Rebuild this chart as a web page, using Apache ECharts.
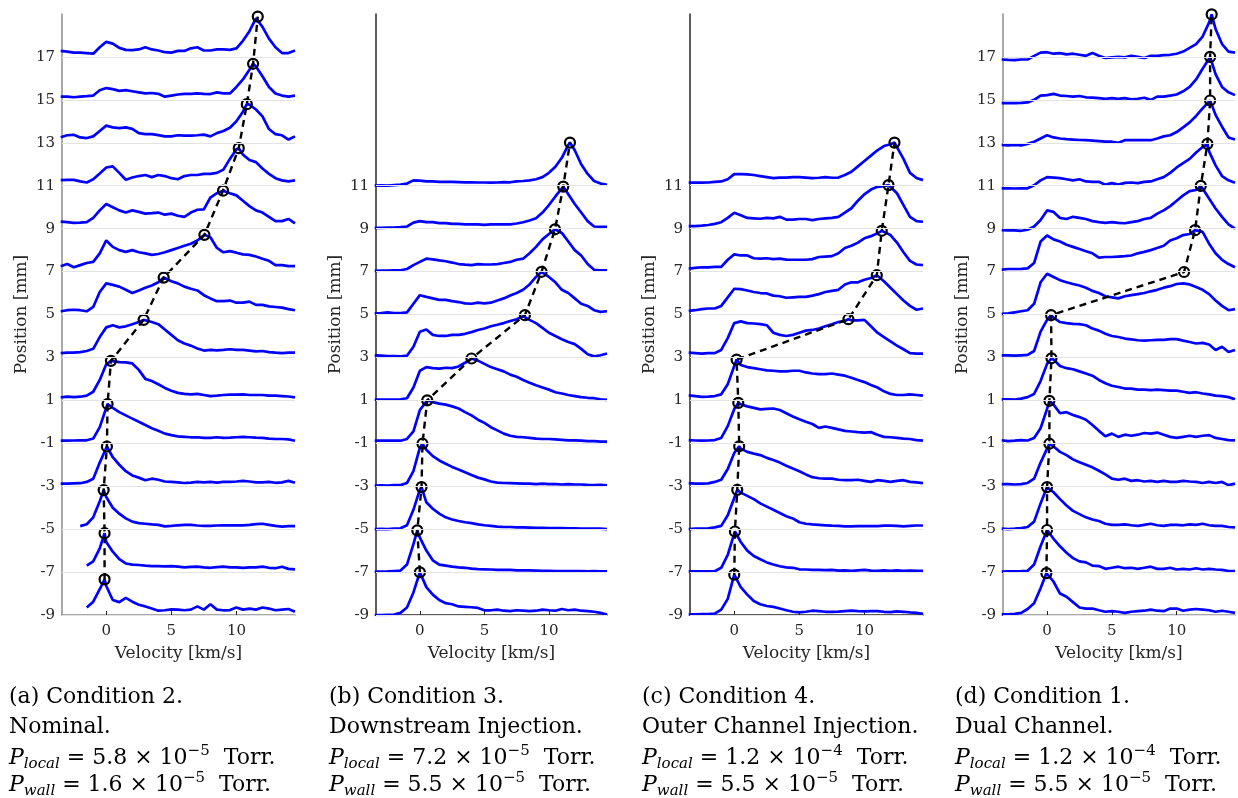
<!DOCTYPE html>
<html>
<head>
<meta charset="utf-8">
<script src="https://cdn.jsdelivr.net/npm/echarts@6/dist/echarts.min.js"></script>
<style>
  html, body { margin: 0; padding: 0; background: #fff; }
  #chart { width: 1238px; height: 798px; }
</style>
</head>
<body>
<div id="chart"></div>
<script>
// velocity grid shared by every trace [km/s]
const velocity = [-3.5, -3, -2.5, -2, -1.5, -1, -0.5, 0, 0.5, 1, 1.5, 2, 2.5, 3, 3.5, 4, 4.5, 5, 5.5, 6,
  6.5, 7, 7.5, 8, 8.5, 9, 9.5, 10, 10.5, 11, 11.5, 12, 12.5, 13, 13.5, 14, 14.5];

const xTicks = [0, 5, 10];
const yTicksLong = [-9, -7, -5, -3, -1, 1, 3, 5, 7, 9, 11, 13, 15, 17];
const yTicksShort = [-9, -7, -5, -3, -1, 1, 3, 5, 7, 9, 11];

// (a) Condition 2 - trace heights above each baseline [mm]
const basesA = [-9, -7, -5, -3, -1, 1, 3, 5, 7, 9, 11, 13, 15, 17];
const ampA = [
  [null, null, null, null, 0.35, 0.62, 1.2, 1.35, 0.7, 0.6, 0.8, 0.62, 0.48, 0.4, 0.3, 0.2, 0.22, 0.26, 0.25, 0.22, 0.25, 0.4, 0.25, 0.5, 0.25, 0.22, 0.23, 0.35, 0.25, 0.3, 0.25, 0.35, 0.3, 0.22, 0.25, 0.28, 0.15],
  [null, null, null, null, 0.3, 0.5, 1.1, 1.4, 0.95, 0.6, 0.4, 0.35, 0.33, 0.3, 0.28, 0.28, 0.27, 0.28, 0.25, 0.22, 0.24, 0.25, 0.22, 0.2, 0.23, 0.25, 0.22, 0.22, 0.2, 0.22, 0.22, 0.25, 0.2, 0.18, 0.25, 0.15, 0.13],
  [null, null, null, 0.14, 0.23, 0.55, 1.3, 1.5, 1.0, 0.72, 0.5, 0.35, 0.28, 0.25, 0.22, 0.2, 0.13, 0.15, 0.18, 0.2, 0.2, 0.17, 0.15, 0.15, 0.17, 0.18, 0.18, 0.18, 0.18, 0.2, 0.23, 0.25, 0.2, 0.15, 0.12, 0.14, 0.14],
  [0.12, 0.12, 0.13, 0.14, 0.2, 0.35, 1.1, 1.75, 1.35, 1.0, 0.7, 0.5, 0.4, 0.28, 0.35, 0.3, 0.22, 0.2, 0.18, 0.15, 0.17, 0.2, 0.18, 0.2, 0.17, 0.2, 0.2, 0.22, 0.25, 0.22, 0.18, 0.18, 0.2, 0.16, 0.18, 0.25, 0.16],
  [0.12, 0.12, 0.13, 0.14, 0.14, 0.22, 0.75, 1.55, 1.65, 1.45, 1.3, 1.15, 1.0, 0.85, 0.7, 0.58, 0.45, 0.38, 0.32, 0.3, 0.28, 0.28, 0.25, 0.25, 0.28, 0.25, 0.26, 0.28, 0.3, 0.28, 0.26, 0.25, 0.22, 0.2, 0.2, 0.18, 0.12],
  [0.14, 0.17, 0.15, 0.17, 0.22, 0.4, 0.95, 1.68, 1.8, 1.78, 1.77, 1.72, 1.42, 1.0, 0.9, 0.75, 0.58, 0.45, 0.35, 0.3, 0.28, 0.3, 0.25, 0.2, 0.22, 0.25, 0.27, 0.27, 0.28, 0.25, 0.25, 0.25, 0.22, 0.22, 0.2, 0.18, 0.14],
  [0.2, 0.22, 0.22, 0.25, 0.3, 0.4, 0.95, 1.4, 1.5, 1.4, 1.45, 1.55, 1.65, 1.72, 1.65, 1.55, 1.3, 1.05, 0.8, 0.65, 0.55, 0.42, 0.32, 0.35, 0.33, 0.35, 0.38, 0.35, 0.35, 0.32, 0.28, 0.3, 0.25, 0.22, 0.2, 0.22, 0.22],
  [0.15, 0.2, 0.22, 0.2, 0.15, 0.35, 1.05, 1.45, 1.38, 1.3, 1.15, 1.0, 1.12, 1.25, 1.35, 1.5, 1.7, 1.55, 1.45, 1.3, 1.2, 1.12, 0.9, 0.75, 0.62, 0.62, 0.65, 0.55, 0.55, 0.6, 0.45, 0.45, 0.38, 0.35, 0.32, 0.25, 0.2],
  [0.25, 0.35, 0.2, 0.3, 0.4, 0.45, 0.85, 1.45, 1.15, 1.0, 0.92, 1.0, 0.9, 0.85, 0.78, 0.82, 0.9, 1.0, 1.1, 1.2, 1.3, 1.45, 1.65, 1.6, 1.1, 0.9, 0.95, 0.88, 0.8, 0.78, 0.7, 0.6, 0.5, 0.3, 0.3, 0.25, 0.25],
  [0.33, 0.3, 0.27, 0.28, 0.3, 0.5, 0.85, 1.15, 1.0, 0.85, 0.75, 0.85, 0.78, 0.7, 0.72, 0.75, 0.65, 0.7, 0.6, 0.55, 0.75, 0.88, 0.9, 1.45, 1.65, 1.75, 1.65, 1.55, 1.3, 1.05, 0.85, 0.75, 0.55, 0.35, 0.35, 0.45, 0.25],
  [0.26, 0.27, 0.27, 0.2, 0.15, 0.3, 0.57, 0.85, 0.9, 0.6, 0.28, 0.38, 0.45, 0.5, 0.4, 0.5, 0.45, 0.35, 0.3, 0.45, 0.5, 0.5, 0.55, 0.55, 0.6, 0.75, 1.25, 1.7, 1.45, 1.2, 1.1, 0.8, 0.55, 0.35, 0.25, 0.2, 0.25],
  [0.26, 0.35, 0.37, 0.25, 0.22, 0.3, 0.55, 0.8, 0.72, 0.68, 0.72, 0.65, 0.45, 0.4, 0.4, 0.36, 0.3, 0.3, 0.35, 0.33, 0.33, 0.35, 0.38, 0.3, 0.45, 0.55, 0.7, 1.0, 1.45, 1.78, 1.55, 1.23, 0.64, 0.4, 0.35, 0.15, 0.3],
  [0.15, 0.15, 0.12, 0.15, 0.17, 0.2, 0.45, 0.55, 0.5, 0.42, 0.45, 0.4, 0.35, 0.3, 0.32, 0.28, 0.15, 0.2, 0.25, 0.28, 0.28, 0.3, 0.28, 0.27, 0.35, 0.3, 0.3, 0.6, 0.95, 1.4, 1.55, 1.1, 0.6, 0.3, 0.2, 0.15, 0.2],
  [0.28, 0.25, 0.2, 0.2, 0.18, 0.15, 0.45, 0.7, 0.62, 0.42, 0.33, 0.32, 0.35, 0.45, 0.35, 0.3, 0.22, 0.2, 0.28, 0.28, 0.4, 0.45, 0.3, 0.3, 0.35, 0.35, 0.33, 0.4, 0.75, 1.2, 1.8, 1.4, 0.85, 0.45, 0.18, 0.18, 0.3]
];
const peakVelA = [-0.13, -0.13, -0.2, 0.05, 0.1, 0.36, 2.87, 4.41, 7.54, 8.97, 10.18, 10.8, 11.28, 11.64];
const peakPosA = [-7.34, -5.19, -3.18, -1.15, 0.83, 2.84, 4.75, 6.72, 8.71, 10.77, 12.75, 14.8, 16.68, 18.88];

// (b) Condition 3
const basesB = [-9, -7, -5, -3, -1, 1, 3, 5, 7, 9, 11];
const ampB = [
  [0.0, 0.0, 0.01, 0.02, 0.1, 0.35, 1.05, 1.9, 1.3, 0.95, 0.7, 0.55, 0.5, 0.4, 0.38, 0.36, 0.33, 0.22, 0.22, 0.25, 0.2, 0.18, 0.22, 0.2, 0.18, 0.2, 0.25, 0.22, 0.2, 0.28, 0.22, 0.25, 0.2, 0.18, 0.15, 0.1, 0.02],
  [0.02, 0.02, 0.03, 0.05, 0.07, 0.35, 1.3, 1.6, 1.0, 0.55, 0.35, 0.3, 0.25, 0.22, 0.2, 0.16, 0.14, 0.13, 0.12, 0.1, 0.1, 0.1, 0.08, 0.08, 0.08, 0.07, 0.06, 0.06, 0.05, 0.04, 0.05, 0.04, 0.05, 0.03, 0.05, 0.03, 0.03],
  [0.0, 0.01, 0.0, 0.02, 0.04, 0.18, 0.9, 1.85, 1.25, 0.95, 0.72, 0.55, 0.45, 0.38, 0.32, 0.28, 0.22, 0.18, 0.15, 0.12, 0.1, 0.1, 0.08, 0.08, 0.07, 0.06, 0.06, 0.05, 0.05, 0.05, 0.04, 0.04, 0.03, 0.03, 0.03, 0.02, 0.0],
  [0.03, 0.04, 0.03, 0.05, 0.05, 0.15, 0.7, 1.8, 1.7, 1.4, 1.2, 1.05, 0.9, 0.78, 0.65, 0.52, 0.4, 0.32, 0.22, 0.17, 0.15, 0.14, 0.13, 0.12, 0.12, 0.1, 0.12, 0.1, 0.1, 0.08, 0.1, 0.08, 0.08, 0.06, 0.05, 0.06, 0.04],
  [0.12, 0.12, 0.13, 0.12, 0.12, 0.2, 0.55, 1.55, 1.95, 1.92, 1.85, 1.8, 1.72, 1.62, 1.45, 1.3, 1.1, 0.95, 0.75, 0.6, 0.45, 0.35, 0.3, 0.28, 0.25, 0.22, 0.2, 0.2, 0.18, 0.16, 0.14, 0.14, 0.12, 0.1, 0.1, 0.08, 0.08],
  [0.03, 0.03, 0.04, 0.03, 0.05, 0.1, 0.6, 1.38, 1.55, 1.5, 1.48, 1.52, 1.5, 1.58, 1.75, 1.93, 1.85, 1.7, 1.55, 1.45, 1.35, 1.2, 1.1, 0.95, 0.82, 0.7, 0.6, 0.5, 0.38, 0.32, 0.25, 0.2, 0.15, 0.12, 0.1, 0.05, 0.02],
  [0.1, 0.08, 0.06, 0.06, 0.05, 0.08, 0.5, 1.2, 1.3, 1.05, 1.0, 1.0, 1.05, 1.05, 1.1, 1.18, 1.28, 1.35, 1.45, 1.52, 1.6, 1.7, 1.78, 1.92, 1.75, 1.6, 1.38, 1.15, 1.0, 0.85, 0.72, 0.62, 0.4, 0.15, 0.05, 0.1, 0.18],
  [0.05, 0.06, 0.1, 0.07, 0.06, 0.1, 0.5, 0.9, 0.82, 0.75, 0.68, 0.68, 0.62, 0.58, 0.52, 0.5, 0.55, 0.52, 0.55, 0.65, 0.75, 0.88, 1.0, 1.15, 1.4, 1.75, 1.95, 1.75, 1.5, 1.15, 1.0, 0.75, 0.5, 0.4, 0.2, 0.12, 0.15],
  [0.03, 0.04, 0.05, 0.06, 0.06, 0.12, 0.3, 0.45, 0.6, 0.57, 0.52, 0.48, 0.42, 0.35, 0.32, 0.3, 0.35, 0.33, 0.33, 0.35, 0.4, 0.45, 0.55, 0.6, 0.85, 1.15, 1.5, 1.75, 1.95, 1.8, 1.4, 1.0, 0.75, 0.35, 0.08, 0.06, 0.06],
  [0.04, 0.04, 0.05, 0.05, 0.07, 0.1, 0.28, 0.35, 0.3, 0.3, 0.26, 0.26, 0.22, 0.22, 0.2, 0.2, 0.2, 0.18, 0.2, 0.2, 0.2, 0.2, 0.24, 0.3, 0.38, 0.48, 0.75, 1.1, 1.5, 1.9, 1.6, 1.15, 0.75, 0.35, 0.1, 0.08, 0.08],
  [0.0, 0.02, 0.0, 0.03, 0.05, 0.1, 0.25, 0.24, 0.2, 0.2, 0.18, 0.18, 0.18, 0.17, 0.16, 0.16, 0.15, 0.15, 0.14, 0.15, 0.17, 0.16, 0.2, 0.22, 0.25, 0.3, 0.4, 0.6, 0.88, 1.3, 1.9, 1.65, 1.0, 0.55, 0.22, 0.1, 0.04]
];
const peakVelB = [0, -0.2, 0.13, 0.2, 0.57, 4.0, 8.14, 9.43, 10.47, 11.11, 11.63];
const peakPosB = [-7.01, -5.06, -3.04, -1.02, 1.0, 2.95, 4.97, 6.99, 8.97, 10.96, 13.01];

// (c) Condition 4
const basesC = [-9, -7, -5, -3, -1, 1, 3, 5, 7, 9, 11];
const ampC = [
  [0.03, 0.03, 0.04, 0.04, 0.06, 0.25, 0.75, 1.85, 1.3, 0.95, 0.65, 0.5, 0.42, 0.38, 0.3, 0.22, 0.15, 0.12, 0.15, 0.2, 0.18, 0.15, 0.15, 0.16, 0.18, 0.2, 0.18, 0.17, 0.18, 0.18, 0.15, 0.13, 0.17, 0.15, 0.12, 0.1, 0.05],
  [0.03, 0.03, 0.03, 0.03, 0.04, 0.2, 0.8, 1.8, 1.4, 1.0, 0.75, 0.6, 0.45, 0.35, 0.27, 0.22, 0.2, 0.13, 0.12, 0.1, 0.1, 0.09, 0.1, 0.07, 0.08, 0.06, 0.08, 0.1, 0.07, 0.06, 0.08, 0.06, 0.08, 0.06, 0.07, 0.06, 0.06],
  [0.0, 0.02, 0.03, 0.04, 0.08, 0.15, 0.65, 1.45, 1.7, 1.55, 1.4, 1.2, 1.05, 0.9, 0.75, 0.6, 0.5, 0.32, 0.25, 0.22, 0.2, 0.18, 0.16, 0.15, 0.13, 0.13, 0.14, 0.14, 0.14, 0.14, 0.16, 0.16, 0.15, 0.13, 0.15, 0.17, 0.17],
  [0.14, 0.12, 0.12, 0.13, 0.2, 0.3, 0.8, 1.55, 1.75, 1.6, 1.52, 1.45, 1.32, 1.22, 1.1, 0.95, 0.82, 0.7, 0.55, 0.42, 0.37, 0.35, 0.35, 0.3, 0.28, 0.28, 0.3, 0.25, 0.2, 0.28, 0.25, 0.2, 0.25, 0.28, 0.2, 0.18, 0.14],
  [0.15, 0.13, 0.12, 0.13, 0.15, 0.25, 0.8, 1.6, 1.82, 1.72, 1.65, 1.58, 1.6, 1.62, 1.55, 1.4, 1.25, 1.12, 1.0, 0.9, 0.72, 0.78, 0.72, 0.65, 0.58, 0.55, 0.52, 0.5, 0.52, 0.4, 0.3, 0.28, 0.25, 0.22, 0.2, 0.15, 0.12],
  [0.23, 0.2, 0.16, 0.17, 0.2, 0.28, 0.75, 1.6, 1.65, 1.55, 1.5, 1.45, 1.4, 1.38, 1.35, 1.35, 1.38, 1.38, 1.3, 1.25, 1.22, 1.22, 1.25, 1.2, 1.15, 1.05, 0.95, 0.85, 0.72, 0.6, 0.42, 0.3, 0.25, 0.25, 0.28, 0.25, 0.22],
  [0.22, 0.2, 0.18, 0.2, 0.2, 0.35, 0.9, 1.6, 1.68, 1.6, 1.58, 1.55, 1.5, 1.15, 1.05, 1.0, 1.05, 1.15, 1.25, 1.28, 1.35, 1.45, 1.55, 1.65, 1.7, 1.73, 1.73, 1.75, 1.45, 1.15, 0.95, 0.75, 0.55, 0.38, 0.2, 0.18, 0.18],
  [0.17, 0.2, 0.25, 0.28, 0.28, 0.4, 0.8, 1.2, 1.18, 1.12, 1.05, 1.0, 0.98, 0.88, 0.85, 0.78, 0.8, 0.82, 0.82, 0.88, 0.95, 1.05, 1.1, 1.15, 1.4, 1.5, 1.5, 1.62, 1.7, 1.8, 1.55, 1.25, 0.95, 0.65, 0.4, 0.22, 0.28],
  [0.14, 0.17, 0.2, 0.2, 0.22, 0.22, 0.55, 0.8, 0.75, 0.75, 0.62, 0.6, 0.62, 0.58, 0.6, 0.56, 0.55, 0.55, 0.55, 0.58, 0.68, 0.7, 0.72, 0.85, 1.1, 1.2, 1.35, 1.55, 1.65, 1.78, 1.85, 1.7, 1.35, 0.9, 0.5, 0.33, 0.3],
  [0.12, 0.12, 0.14, 0.17, 0.22, 0.3, 0.5, 0.74, 0.62, 0.5, 0.48, 0.46, 0.5, 0.48, 0.55, 0.42, 0.42, 0.45, 0.45, 0.4, 0.45, 0.48, 0.5, 0.55, 0.75, 0.95, 1.3, 1.6, 1.82, 1.95, 1.98, 1.98, 1.65, 1.1, 0.55, 0.35, 0.32],
  [0.14, 0.14, 0.14, 0.15, 0.18, 0.2, 0.3, 0.54, 0.54, 0.53, 0.5, 0.45, 0.4, 0.35, 0.38, 0.38, 0.4, 0.4, 0.38, 0.35, 0.37, 0.4, 0.37, 0.38, 0.5, 0.65, 0.9, 1.15, 1.4, 1.65, 1.85, 1.93, 1.8, 1.25, 0.6, 0.36, 0.26]
];
const peakVelC = [0, 0.05, 0.23, 0.38, 0.31, 0.18, 8.77, 10.95, 11.33, 11.85, 12.31];
const peakPosC = [-7.12, -5.11, -3.17, -1.14, 0.88, 2.9, 4.78, 6.83, 8.9, 11.03, 13.01];

// (d) Condition 1
const basesD = [-9, -7, -5, -3, -1, 1, 3, 5, 7, 9, 11, 13, 15, 17];
const ampD = [
  [0.03, 0.03, 0.05, 0.1, 0.28, 0.55, 1.25, 1.9, 1.55, 1.0, 0.85, 0.6, 0.35, 0.3, 0.3, 0.22, 0.15, 0.18, 0.15, 0.1, 0.15, 0.18, 0.2, 0.25, 0.2, 0.18, 0.3, 0.3, 0.2, 0.25, 0.28, 0.25, 0.22, 0.15, 0.2, 0.15, 0.1],
  [0.02, 0.03, 0.03, 0.04, 0.06, 0.35, 1.2, 1.9, 1.55, 1.2, 0.9, 0.65, 0.5, 0.45, 0.3, 0.28, 0.15, 0.2, 0.25, 0.18, 0.2, 0.15, 0.2, 0.25, 0.15, 0.15, 0.2, 0.12, 0.15, 0.12, 0.18, 0.12, 0.15, 0.12, 0.1, 0.05, 0.05],
  [0.02, 0.0, 0.02, 0.05, 0.1, 0.35, 1.2, 1.9, 1.72, 1.4, 1.1, 0.85, 0.7, 0.55, 0.45, 0.38, 0.25, 0.2, 0.2, 0.22, 0.18, 0.15, 0.2, 0.25, 0.18, 0.15, 0.2, 0.2, 0.18, 0.22, 0.2, 0.25, 0.18, 0.15, 0.15, 0.1, 0.08],
  [0.1, 0.1, 0.08, 0.1, 0.15, 0.35, 1.1, 1.75, 1.85, 1.6, 1.45, 1.25, 1.12, 1.0, 0.88, 0.72, 0.55, 0.35, 0.3, 0.35, 0.25, 0.28, 0.22, 0.25, 0.2, 0.25, 0.2, 0.2, 0.25, 0.22, 0.2, 0.15, 0.2, 0.15, 0.2, 0.05, 0.12],
  [0.14, 0.1, 0.12, 0.15, 0.13, 0.25, 0.7, 1.6, 1.8, 1.4, 1.45, 1.32, 1.22, 1.1, 0.85, 0.58, 0.33, 0.45, 0.3, 0.4, 0.35, 0.4, 0.48, 0.45, 0.5, 0.4, 0.3, 0.25, 0.3, 0.35, 0.3, 0.35, 0.38, 0.25, 0.2, 0.15, 0.14],
  [0.05, 0.05, 0.04, 0.08, 0.15, 0.3, 0.9, 1.7, 1.9, 1.6, 1.5, 1.45, 1.35, 1.25, 1.15, 0.95, 0.8, 0.68, 0.62, 0.55, 0.55, 0.5, 0.5, 0.48, 0.5, 0.48, 0.45, 0.45, 0.4, 0.35, 0.38, 0.32, 0.28, 0.22, 0.2, 0.15, 0.05],
  [0.1, 0.1, 0.08, 0.1, 0.12, 0.3, 1.2, 1.75, 1.85, 1.65, 1.6, 1.56, 1.55, 1.5, 1.35, 1.25, 1.1, 1.0, 0.95, 0.88, 0.84, 0.8, 0.78, 0.8, 0.82, 0.82, 0.85, 0.85, 0.78, 0.72, 0.65, 0.68, 0.6, 0.35, 0.5, 0.25, 0.35],
  [0.03, 0.05, 0.1, 0.15, 0.2, 0.5, 1.5, 1.9, 1.75, 1.6, 1.5, 1.42, 1.35, 1.25, 1.1, 1.0, 0.85, 0.8, 0.75, 0.85, 0.9, 0.95, 1.0, 1.08, 1.15, 1.25, 1.32, 1.42, 1.45, 1.4, 1.28, 1.15, 0.95, 0.65, 0.4, 0.2, 0.25],
  [0.09, 0.12, 0.12, 0.13, 0.15, 0.4, 1.4, 1.68, 1.5, 1.4, 1.25, 1.15, 1.05, 0.95, 0.85, 0.65, 0.68, 0.68, 0.7, 0.72, 0.75, 0.85, 0.92, 1.0, 1.1, 1.2, 1.45, 1.55, 1.7, 1.75, 1.9, 1.85, 1.3, 0.85, 0.55, 0.35, 0.2],
  [-0.07, -0.08, -0.08, -0.1, -0.05, 0.1, 0.4, 0.85, 0.78, 0.5, 0.45, 0.55, 0.5, 0.45, 0.35, 0.3, 0.27, 0.3, 0.27, 0.25, 0.3, 0.35, 0.45, 0.5, 0.7, 0.85, 1.05, 1.3, 1.55, 1.75, 1.8, 1.87, 1.4, 0.94, 0.55, 0.2, 0.0],
  [-0.12, -0.12, -0.13, -0.12, -0.12, 0.02, 0.25, 0.4, 0.38, 0.35, 0.3, 0.25, 0.3, 0.2, 0.18, 0.18, 0.05, 0.12, 0.05, 0.13, 0.15, 0.12, 0.18, 0.2, 0.3, 0.4, 0.6, 0.85, 1.05, 1.25, 1.55, 1.8, 1.6, 0.95, 0.45, 0.25, 0.14],
  [-0.1, -0.12, -0.1, -0.12, -0.05, 0.05, 0.2, 0.35, 0.25, 0.2, 0.17, 0.15, 0.13, 0.12, 0.1, 0.08, 0.05, 0.05, 0.0, 0.12, 0.12, 0.12, 0.12, 0.12, 0.2, 0.3, 0.35, 0.5, 0.72, 0.95, 1.25, 1.6, 1.95, 1.3, 0.75, 0.25, 0.15],
  [-0.15, -0.15, -0.15, -0.14, -0.12, 0.0, 0.2, 0.22, 0.28, 0.2, 0.18, 0.15, 0.18, 0.12, 0.1, 0.08, 0.05, 0.08, 0.05, 0.08, 0.02, 0.05, 0.1, 0.0, 0.15, 0.15, 0.2, 0.25, 0.4, 0.6, 0.95, 1.45, 1.95, 1.2, 0.6, 0.35, 0.22],
  [-0.12, -0.14, -0.15, -0.12, -0.12, 0.05, 0.2, 0.22, 0.15, 0.18, 0.12, 0.15, 0.1, 0.05, 0.18, 0.05, -0.05, -0.02, 0.0, -0.02, 0.05, 0.0, -0.05, 0.05, 0.05, 0.08, 0.1, 0.15, 0.25, 0.42, 0.6, 0.95, 1.6, 1.3, 0.6, 0.25, 0.2]
];
const peakVelD = [-0.05, 0, 0, 0.18, 0.18, 0.34, 0.31, 10.57, 11.42, 11.86, 12.37, 12.58, 12.58, 12.7];
const peakPosD = [-7.05, -5.04, -3.04, -1.02, 0.98, 2.96, 4.97, 6.98, 8.93, 10.99, 12.95, 14.97, 17.0, 18.98];
const detachedPeaksD = [7]; // the circle that does not sit on its trace

// captions
const captionTags = ['(a) Condition 2.', '(b) Condition 3.', '(c) Condition 4.', '(d) Condition 1.'];
const captionNames = ['Nominal.', 'Downstream Injection.', 'Outer Channel Injection.', 'Dual Channel.'];
const pLocalMant = ['5.8', '7.2', '1.2', '1.2'];
const pLocalExp = ['\u22125', '\u22125', '\u22124', '\u22124'];
const pWallMant = ['1.6', '5.5', '5.5', '5.5'];
const pWallExp = ['\u22125', '\u22125', '\u22125', '\u22125'];

const panels = [
  { bases: basesA, amp: ampA, pv: peakVelA, pp: peakPosA, ticks: yTicksLong, left: 62, width: 233, axisColor: '#8c8c8c', detached: [] },
  { bases: basesB, amp: ampB, pv: peakVelB, pp: peakPosB, ticks: yTicksShort, left: 376, width: 231, axisColor: '#262626', detached: [] },
  { bases: basesC, amp: ampC, pv: peakVelC, pp: peakPosC, ticks: yTicksShort, left: 690, width: 233, axisColor: '#262626', detached: [] },
  { bases: basesD, amp: ampD, pv: peakVelD, pp: peakPosD, ticks: yTicksLong, left: 1003, width: 232, axisColor: '#8c8c8c', detached: detachedPeaksD }
];
const captionX = [9, 329, 642, 955];
const captionY = [697, 727, 758, 785];

const SERIF = '"DejaVu Serif", "Liberation Serif", serif';
const TXT = '#262626';

function tracePoints(amps, base, pv, pp, onTrace) {
  const pts = [];
  velocity.forEach((v, k) => {
    if (amps[k] === null) return;
    if (onTrace && Math.abs(v - pv) < 0.12) return;
    pts.push([v, base + amps[k]]);
  });
  if (onTrace) pts.push([pv, pp]);
  pts.sort((p, q) => p[0] - q[0]);
  return pts;
}

const chart = echarts.init(document.getElementById('chart'), null, { renderer: 'canvas' });

const grid = [], xAxis = [], yAxis = [], series = [];
panels.forEach((p, i) => {
  grid.push({ left: p.left, width: p.width, top: 14, height: 601 });
  xAxis.push({
    gridIndex: i, type: 'value', min: -3.4, max: 14.5,
    name: 'Velocity [km/s]', nameLocation: 'middle', nameGap: 30,
    nameTextStyle: { fontFamily: SERIF, fontSize: 17, color: TXT },
    axisLine: { show: true, onZero: false, lineStyle: { color: p.axisColor, width: 1.5 } },
    axisTick: { show: true, inside: true, length: 4, customValues: xTicks, lineStyle: { color: TXT } },
    axisLabel: { customValues: xTicks, margin: 9, fontFamily: SERIF, fontSize: 15, color: TXT },
    splitLine: { show: false }
  });
  yAxis.push({
    gridIndex: i, type: 'value', min: -9, max: 19,
    name: 'Position [mm]', nameLocation: 'middle', nameGap: 32, nameRotate: 90,
    nameTextStyle: { fontFamily: SERIF, fontSize: 17, color: TXT },
    axisLine: { show: true, onZero: false, lineStyle: { color: p.axisColor, width: 1.5 } },
    axisTick: { show: true, inside: true, length: 5, customValues: p.ticks, lineStyle: { color: TXT } },
    axisLabel: { customValues: p.ticks, margin: 7, fontFamily: SERIF, fontSize: 15, color: TXT },
    splitLine: { show: false }
  });
  // light grid lines at the labelled positions
  series.push({
    type: 'line', xAxisIndex: i, yAxisIndex: i, data: [], silent: true, z: 1,
    markLine: {
      silent: true, symbol: ['none', 'none'], animation: false, label: { show: false },
      lineStyle: { color: '#e3e3e3', width: 1, type: 'solid' },
      data: p.ticks.map(t => ({ yAxis: t }))
    }
  });
  p.bases.forEach((b, j) => {
    series.push({
      type: 'line', xAxisIndex: i, yAxisIndex: i, z: 2, silent: true,
      showSymbol: false, clip: true,
      lineStyle: { color: '#0000ff', width: 2.7 },
      data: tracePoints(p.amp[j], b, p.pv[j], p.pp[j], p.detached.indexOf(j) < 0)
    });
  });
  series.push({
    type: 'line', xAxisIndex: i, yAxisIndex: i, z: 3, silent: true,
    symbol: 'circle', symbolSize: 10, showSymbol: true,
    lineStyle: { color: '#000', width: 2.4, type: [7, 5] },
    itemStyle: { color: 'rgba(255,255,255,0)', borderColor: '#000', borderWidth: 2.2 },
    data: p.pv.map((v, j) => [v, p.pp[j]])
  });
});

const graphic = [];
panels.forEach((p, i) => {
  const rich = {
    n: { fontFamily: SERIF, fontSize: 22, lineHeight: 28, fill: '#000' },
    it: { fontFamily: SERIF, fontSize: 22, fontStyle: 'italic', lineHeight: 28, fill: '#000' },
    sub: { fontFamily: SERIF, fontSize: 15, fontStyle: 'italic', verticalAlign: 'bottom', fill: '#000' },
    sup: { fontFamily: SERIF, fontSize: 15, verticalAlign: 'top', fill: '#000' }
  };
  const lines = [
    captionTags[i],
    captionNames[i],
    '{it|P}{sub|local}{n| = ' + pLocalMant[i] + ' \u00d7 10}{sup|' + pLocalExp[i] + '}{n|  Torr.}',
    '{it|P}{sub|wall}{n| = ' + pWallMant[i] + ' \u00d7 10}{sup|' + pWallExp[i] + '}{n|  Torr.}'
  ];
  lines.forEach((t, k) => {
    graphic.push({
      type: 'text', x: captionX[i], y: captionY[k], silent: true,
      style: { text: t, rich: rich, fontFamily: SERIF, fontSize: 22, fill: '#000', align: 'left', verticalAlign: 'middle' }
    });
  });
});

chart.setOption({
  animation: false,
  backgroundColor: '#ffffff',
  grid: grid,
  xAxis: xAxis,
  yAxis: yAxis,
  series: series,
  graphic: graphic
});
</script>
</body>
</html>
